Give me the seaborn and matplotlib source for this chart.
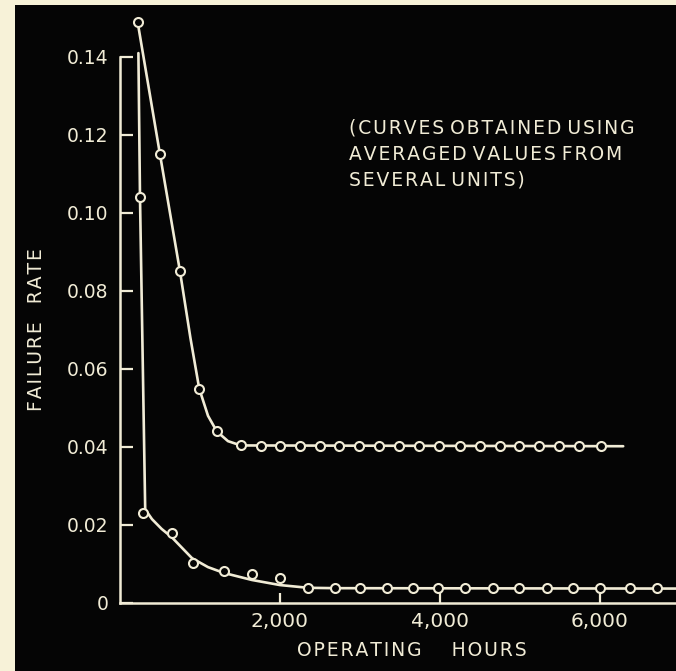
import matplotlib
matplotlib.use("Agg")
import matplotlib.pyplot as plt
from matplotlib.patches import Rectangle
import seaborn as sns

# Averaged failure-rate curves (operating hours vs. failure rate)
upper_marker_hours = [220, 500, 750, 990, 1210, 1510, 1760, 2000, 2250, 2500,
                      2740, 2990, 3240, 3490, 3740, 3990, 4250, 4500, 4750,
                      4990, 5240, 5490, 5740, 6010]
upper_marker_rate = [0.149, 0.115, 0.085, 0.055, 0.044, 0.0405, 0.0402, 0.0402,
                     0.0402, 0.0402, 0.0402, 0.0402, 0.0402, 0.0402, 0.0402,
                     0.0402, 0.0402, 0.0402, 0.0402, 0.0402, 0.0402, 0.0402,
                     0.0402, 0.0402]
upper_curve_hours = [220, 500, 750, 880, 990, 1100, 1210, 1350, 1510, 6290]
upper_curve_rate = [0.149, 0.115, 0.085, 0.068, 0.055, 0.048, 0.044, 0.0415,
                    0.0404, 0.0402]

lower_marker_hours = [250, 290, 650, 910, 1300, 1650, 2000, 2350, 2690, 3000,
                      3340, 3660, 3975, 4310, 4660, 4990, 5340, 5660, 6000,
                      6375, 6710]
lower_marker_rate = [0.104, 0.023, 0.018, 0.0103, 0.0082, 0.0074, 0.0065,
                     0.0038, 0.0038, 0.0038, 0.0038, 0.0038, 0.0038, 0.0038,
                     0.0038, 0.0038, 0.0038, 0.0038, 0.0038, 0.0038, 0.0038]
lower_curve_hours = [230, 250, 315, 400, 520, 650, 900, 1100, 1300, 1650,
                     2000, 2350, 2700, 6950]
lower_curve_rate = [0.141, 0.104, 0.024, 0.0215, 0.019, 0.0168, 0.0115,
                    0.0092, 0.0077, 0.0059, 0.0046, 0.0039, 0.0038, 0.0037]

y_ticks = [0, 0.02, 0.04, 0.06, 0.08, 0.10, 0.12, 0.14]
y_tick_labels = ["0", "0.02", "0.04", "0.06", "0.08", "0.10", "0.12", "0.14"]
x_ticks = [2000, 4000, 6000]
x_tick_labels = ["2,000", "4,000", "6,000"]

note_lines = ["(CURVES OBTAINED USING", "AVERAGED VALUES FROM", "SEVERAL UNITS)"]

INK = "#f1ecd6"
PANEL = "#050505"
PAPER = "#f7f2d8"


def tracked(s, gap="\u200a"):
    """Open up the letter spacing of stencil-style lettering."""
    return gap.join(s)


sns.set_style("white")
plt.rcParams["font.family"] = ["DejaVu Sans"]

W, H = 676, 671
fig = plt.figure(figsize=(W / 100, H / 100), dpi=100, facecolor=PAPER)
fig.patches.append(Rectangle((15 / W, 0), 1 - 15 / W, (H - 5) / H,
                             transform=fig.transFigure, facecolor=PANEL,
                             edgecolor="none", zorder=-5))

ax = fig.add_axes([120 / W, 68 / H, (W - 120) / W, (603 - 5) / H])
ax.set_facecolor("none")
ax.patch.set_visible(False)

sns.lineplot(x=upper_curve_hours, y=upper_curve_rate, ax=ax, color=INK,
             lw=1.9, sort=False, estimator=None, zorder=3)
sns.lineplot(x=lower_curve_hours, y=lower_curve_rate, ax=ax, color=INK,
             lw=1.9, sort=False, estimator=None, zorder=3)
sns.scatterplot(x=upper_marker_hours, y=upper_marker_rate, ax=ax, marker="o",
                s=42, facecolor=PANEL, edgecolor=INK, linewidth=1.5, zorder=4)
sns.scatterplot(x=lower_marker_hours, y=lower_marker_rate, ax=ax, marker="o",
                s=42, facecolor=PANEL, edgecolor=INK, linewidth=1.5, zorder=4)

ax.set_xlim(0, 6950)
ax.set_ylim(0, (603 - 5) / 3900)

for side in ("top", "right"):
    ax.spines[side].set_visible(False)
for side in ("left", "bottom"):
    ax.spines[side].set_color(INK)
    ax.spines[side].set_linewidth(1.8)
ax.spines["left"].set_bounds(0, 0.14)

ax.set_yticks(y_ticks)
ax.set_yticklabels(y_tick_labels)
ax.set_xticks(x_ticks)
ax.set_xticklabels(x_tick_labels)
ax.tick_params(axis="y", left=True, direction="in", length=9.4, width=1.6,
               colors=INK, labelsize=13.5, pad=8.5)
ax.tick_params(axis="x", bottom=True, direction="in", length=7, width=1.6,
               colors=INK, labelsize=14.5, pad=6.5)
ax.set_xlabel("")
ax.set_ylabel("")

fig.text(37 / W, 1 - 330 / H, tracked("FAILURE") + "   " + tracked("RATE"),
         rotation=90, color=INK, fontsize=13.5, ha="center", va="center")
fig.text(412 / W, 1 - 650 / H,
         tracked("OPERATING") + "     " + tracked("HOURS"), color=INK,
         fontsize=13.5, ha="center", va="center")
fig.text(349 / W, 1 - 119 / H,
         "\n".join(" ".join(tracked(w) for w in line.split())
                   for line in note_lines),
         color=INK, fontsize=13.5, ha="left", va="top", linespacing=1.45)

fig.savefig("out.png", dpi=100, facecolor=PAPER)
